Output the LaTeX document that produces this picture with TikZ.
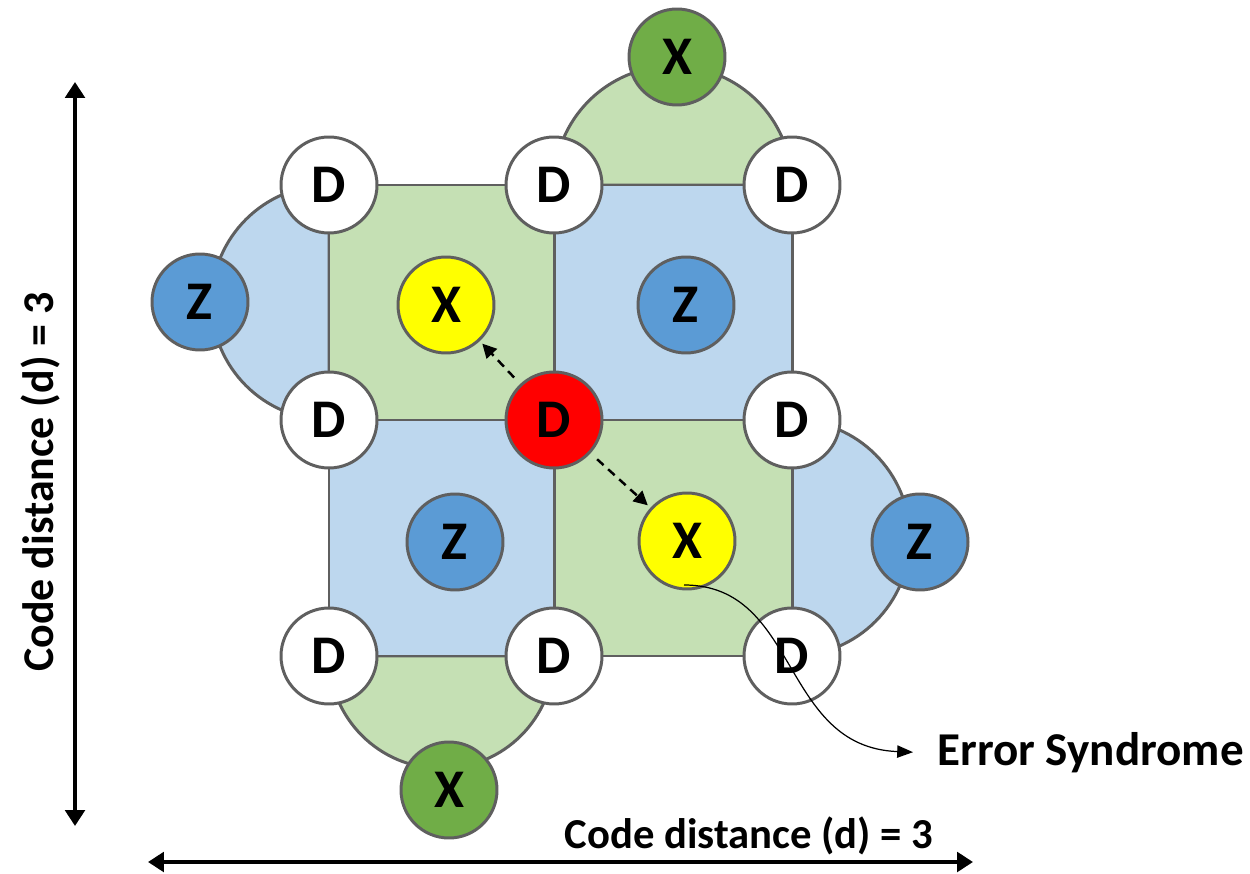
\documentclass[tikz,border=0pt]{standalone}
\usepackage{fontspec}
\setmainfont{Carlito}
\usetikzlibrary{arrows.meta}
\definecolor{edgegray}{HTML}{5F5F5F}
\definecolor{lgreen}{HTML}{C5E0B4}
\definecolor{lblue}{HTML}{BDD7EE}
\definecolor{zblue}{HTML}{5B9BD5}
\definecolor{xgreen}{HTML}{70AD47}
\definecolor{xyellow}{HTML}{FFFF00}
\definecolor{dred}{HTML}{FF0000}
\tikzset{
  qubit/.style={circle, draw=edgegray, line width=1.7pt, minimum size=1.92cm,
    inner sep=0pt, font=\bfseries\fontsize{31}{31}\selectfont},
  dataq/.style={qubit, fill=white},
  errq/.style={qubit, fill=dred},
  zq/.style={qubit, fill=zblue},
  xq/.style={qubit, fill=xgreen},
  xflag/.style={qubit, fill=xyellow},
  plaqg/.style={fill=lgreen, draw=edgegray, line width=1.7pt},
  plaqb/.style={fill=lblue, draw=edgegray, line width=1.7pt},
  lbl/.style={inner sep=0pt, font=\bfseries\fontsize{24.3}{25}\selectfont},
  dimarrow/.style={line width=2.8pt, {Triangle[length=9pt,width=11pt]}-{Triangle[length=9pt,width=11pt]}},
  syndarrow/.style={line width=1.4pt, dash pattern=on 5pt off 3.5pt, -{Triangle[length=8pt,width=8pt]}},
}
\begin{document}
\begin{tikzpicture}[x=0.02cm, y=0.02cm]
\useasboundingbox (0,0) rectangle (1250,-874);

% boundary (weight-two) stabilizers
\draw[plaqg] (554,-185) arc[start angle=180, end angle=0, radius=119] -- cycle;
\draw[plaqb] (329,-185) arc[start angle=90, end angle=270, radius=117.5] -- cycle;
\draw[plaqb] (792,-420) arc[start angle=90, end angle=-90, radius=118] -- cycle;
\draw[plaqg] (329,-656) arc[start angle=180, end angle=360, radius=112.5] -- cycle;

% bulk (weight-four) stabilizers
\draw[plaqg] (329,-185) rectangle (554,-420);
\draw[plaqb] (554,-185) rectangle (792,-420);
\draw[plaqb] (329,-420) rectangle (554,-656);
\draw[plaqg] (554,-420) rectangle (792,-656);

% data qubits
\node[dataq] (d11) at (329,-185) {D};
\node[dataq] (d12) at (554,-185) {D};
\node[dataq] (d13) at (792,-185) {D};
\node[dataq] (d21) at (329,-420) {D};
\node[errq]  (d22) at (554,-420) {D};
\node[dataq] (d23) at (792,-420) {D};
\node[dataq] (d31) at (329,-656) {D};
\node[dataq] (d32) at (554,-656) {D};
\node[dataq] (d33) at (792,-656) {D};

% measurement qubits
\node[xflag] (xa) at (446,-305) {X};
\node[zq]    (za) at (686,-305) {Z};
\node[zq]    (zb) at (455,-542) {Z};
\node[xflag] (xb) at (687,-541) {X};
\node[xq]    (xt) at (677,-57)  {X};
\node[xq]    (xd) at (449,-790) {X};
\node[zq]    (zl) at (200,-302) {Z};
\node[zq]    (zr) at (920,-542) {Z};

% error propagation to neighbouring X checks
\draw[syndarrow, shorten <=5pt, shorten >=2pt] (d22) -- (xa);
\draw[syndarrow, shorten <=5pt, shorten >=2pt] (d22) -- (xb);

% syndrome readout
\node[lbl, font=\bfseries\fontsize{26.8}{27}\selectfont, anchor=base west] (err) at (937,-765) {Error Syndrome};
\coordinate (synsrc) at (684,-585);
\draw[line width=0.7pt, -{Triangle[length=9pt,width=7pt]}]
  (synsrc) .. controls (800,-585) and (780,-747) .. ([xshift=-0.48cm]err.west);

% code distance markers
\coordinate (vt) at (75,-82);
\coordinate (vb) at (75,-826);
\coordinate (hl) at (148,-862);
\coordinate (hr) at (973,-862);
\draw[dimarrow] (vt) -- (vb);
\draw[dimarrow] (hl) -- (hr);
\node[lbl, font=\bfseries\fontsize{25}{25}\selectfont, rotate=90, anchor=base] (vlbl) at (53,-482) {Code distance (d) = 3};
\node[lbl, anchor=base] (hlbl) at (749,-848) {Code distance (d) = 3};
\end{tikzpicture}
\end{document}
